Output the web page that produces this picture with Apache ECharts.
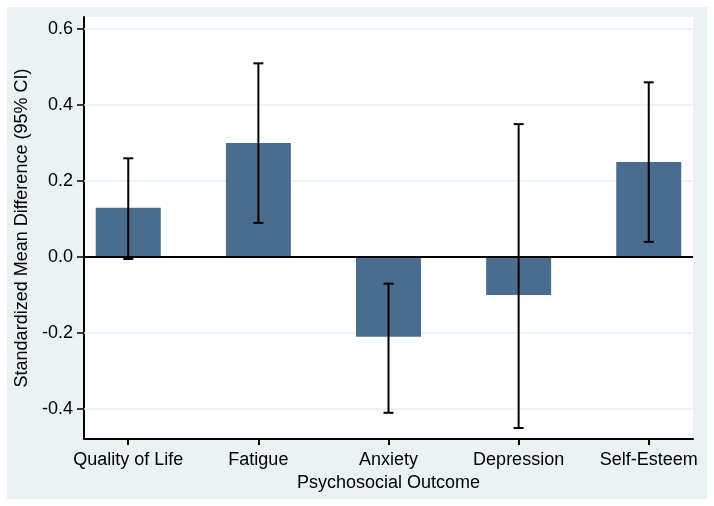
<!DOCTYPE html>
<html><head><meta charset="utf-8">
<script src="https://cdn.jsdelivr.net/npm/echarts@6/dist/echarts.min.js"></script>
<style>html,body{margin:0;padding:0;background:#fff}#c{width:714px;height:506px}</style>
</head><body><div id="c"></div>
<script>
var categories = ['Quality of Life', 'Fatigue', 'Anxiety', 'Depression', 'Self-Esteem'];
var smd = [0.13, 0.30, -0.21, -0.10, 0.25];
var ciLow = [-0.005, 0.09, -0.41, -0.45, 0.04];
var ciHigh = [0.26, 0.51, -0.07, 0.35, 0.46];
var yTicks = [-0.4, -0.2, 0.0, 0.2, 0.4, 0.6];
var yTickLabels = ['-0.4', '-0.2', '0.0', '0.2', '0.4', '0.6'];

var positions = categories.map(function (c, i) { return i + 1; });
var barData = smd.map(function (v, i) { return [positions[i], v]; });
var errData = categories.map(function (c, i) { return [positions[i], ciLow[i], ciHigh[i]]; });

var chart = echarts.init(document.getElementById('c'), null, {renderer: 'canvas'});
var font = 'Liberation Sans, Arial, sans-serif';
chart.setOption({
  animation: false,
  backgroundColor: '#ffffff',
  graphic: [{
    type: 'rect', left: 7, top: 7, z: -10,
    shape: {width: 700, height: 492},
    style: {fill: '#eaf2f3'}
  }],
  grid: {left: 84, top: 17, right: 21, bottom: 67, show: true, backgroundColor: '#ffffff', borderWidth: 0},
  xAxis: {
    type: 'value', min: 0.66, max: 5.34,
    name: 'Psychosocial Outcome', nameLocation: 'middle', nameGap: 35,
    nameTextStyle: {fontFamily: font, fontSize: 18, color: '#000'},
    axisLine: {show: true, onZero: false, lineStyle: {color: '#000', width: 2}},
    axisTick: {show: true, length: 6, customValues: positions, lineStyle: {color: '#000', width: 2}},
    axisLabel: {
      customValues: positions, margin: 12,
      fontFamily: font, fontSize: 18, color: '#000',
      formatter: function (v) { return categories[Math.round(v) - 1] || ''; }
    },
    splitLine: {show: false}
  },
  yAxis: {
    type: 'value', min: -0.479, max: 0.632,
    name: 'Standardized Mean Difference (95% CI)', nameLocation: 'middle', nameGap: 49,
    nameTextStyle: {fontFamily: font, fontSize: 18, color: '#000'},
    axisLine: {show: true, onZero: false, lineStyle: {color: '#000', width: 2}},
    axisTick: {show: true, length: 7, customValues: yTicks, lineStyle: {color: '#000', width: 1.5}},
    axisLabel: {
      customValues: yTicks, margin: 11,
      fontFamily: font, fontSize: 18, color: '#000',
      formatter: function (v) {
        for (var i = 0; i < yTicks.length; i++) if (Math.abs(yTicks[i] - v) < 1e-6) return yTickLabels[i];
        return '';
      }
    },
    splitLine: {show: false}
  },
  series: [
    {
      type: 'line', data: [], z: 1, silent: true,
      markLine: {
        z: 1, silent: true, symbol: 'none', label: {show: false},
        lineStyle: {color: '#e6eff1', width: 1.5, type: 'solid'},
        data: yTicks.filter(function (t) { return t !== 0; }).map(function (t) { return {yAxis: t}; })
      }
    },
    {
      type: 'bar', data: barData, barWidth: 65, z: 2,
      itemStyle: {color: '#4a6d8f'},
      markLine: {
        z: 3, silent: true, symbol: 'none', label: {show: false},
        lineStyle: {color: '#000', width: 2, type: 'solid'},
        data: [{yAxis: 0}]
      }
    },
    {
      type: 'custom', z: 4, data: errData,
      renderItem: function (params, api) {
        var x = api.value(0);
        var lo = api.coord([x, api.value(1)]);
        var hi = api.coord([x, api.value(2)]);
        var hw = 5;
        var st = {stroke: '#000', lineWidth: 2};
        return {type: 'group', children: [
          {type: 'line', shape: {x1: lo[0], y1: lo[1], x2: hi[0], y2: hi[1]}, style: st},
          {type: 'line', shape: {x1: lo[0] - hw, y1: lo[1], x2: lo[0] + hw, y2: lo[1]}, style: st},
          {type: 'line', shape: {x1: hi[0] - hw, y1: hi[1], x2: hi[0] + hw, y2: hi[1]}, style: st}
        ]};
      }
    }
  ]
});
</script></body></html>
